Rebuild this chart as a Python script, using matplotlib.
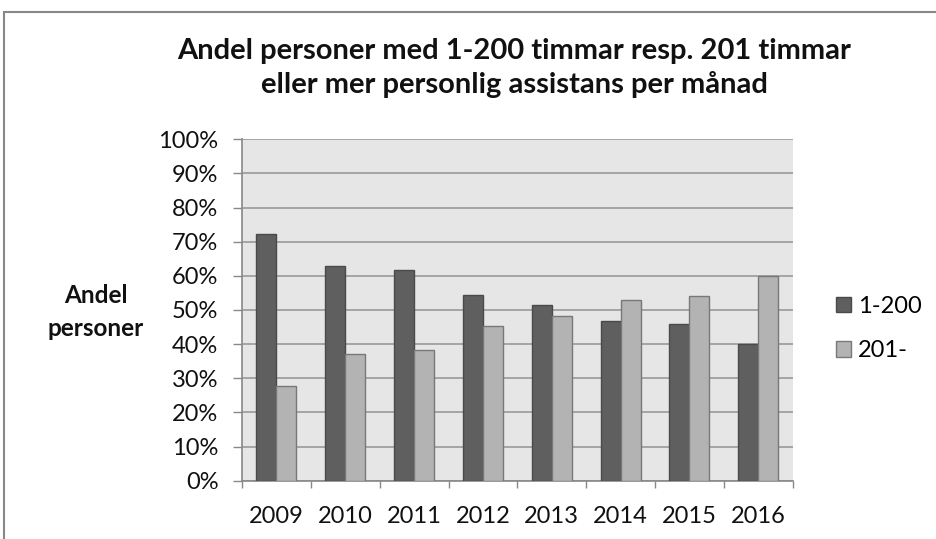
import matplotlib
matplotlib.use("Agg")
import matplotlib.pyplot as plt
from matplotlib.patches import Rectangle
from matplotlib.ticker import FixedLocator
import numpy as np

years = ["2009", "2010", "2011", "2012", "2013", "2014", "2015", "2016"]
share_1_200 = [72.2, 62.8, 61.6, 54.5, 51.6, 46.9, 45.8, 39.9]
share_201 = [27.7, 37.0, 38.2, 45.4, 48.2, 52.9, 54.1, 59.9]
series_names = ["1-200", "201-"]
title = "Andel personer med 1-200 timmar resp. 201 timmar\neller mer personlig assistans per månad"
ylabel = "Andel\npersoner"

plt.rcParams["font.family"] = ["Lato", "DejaVu Sans"]

W, H = 936, 539
fig = plt.figure(figsize=(W / 100, H / 100), dpi=100)
fig.patch.set_facecolor("white")

# outer chart frame
fig.add_artist(Rectangle((4 / W, -0.1), 1.2, (H - 12) / H + 0.1, transform=fig.transFigure,
                         fill=False, edgecolor="#888888", linewidth=1.5))

ax = fig.add_axes([242 / W, 1 - 480.7 / H, (792.7 - 242) / W, (480.7 - 139.3) / H])
ax.set_facecolor("#e6e6e6")

x = np.arange(len(years))
bw = 0.29
ax.bar(x - bw / 2, share_1_200, bw, color="#5f5f5f", edgecolor="#4a4a4a", linewidth=1, label=series_names[0], zorder=3)
ax.bar(x + bw / 2, share_201, bw, color="#b3b3b3", edgecolor="#787878", linewidth=1, label=series_names[1], zorder=3)

ax.set_xlim(-0.5, len(years) - 0.5)
ax.set_ylim(0, 100)
ax.set_yticks(np.arange(0, 101, 10))
ax.set_yticklabels([f"{v}%" for v in range(0, 101, 10)], fontsize=17, color="#111111")
ax.set_xticks(x)
ax.set_xticklabels(years, fontsize=17, color="#111111")
ax.xaxis.set_minor_locator(FixedLocator(np.arange(-0.5, len(years), 1)))
ax.tick_params(axis="x", which="major", length=0, pad=18)
ax.tick_params(axis="x", which="minor", length=5, color="#888888", width=1)
ax.tick_params(axis="y", length=6.5, color="#888888", width=1, pad=10.5)
ax.yaxis.grid(True, color="#a0a0a0", linewidth=1.3, zorder=0)
ax.set_axisbelow(True)
for side in ["top", "right"]:
    ax.spines[side].set_visible(False)
for side in ["left", "bottom"]:
    ax.spines[side].set_color("#888888")
    ax.spines[side].set_linewidth(1.2)

fig.text(514 / W, 1 - 68 / H, title, ha="center", va="center", fontsize=21,
         fontweight="bold", linespacing=1.3, color="#111111")
fig.text(96 / W, 1 - 312 / H, ylabel, ha="center", va="center", fontsize=17.5,
         fontweight="bold", linespacing=1.5, color="#111111")

leg = fig.legend(loc="center left", bbox_to_anchor=(836 / W, 1 - 328.5 / H), frameon=False,
                 fontsize=17, handlelength=0.64, handleheight=0.64, handletextpad=0.28,
                 labelspacing=1.0, borderpad=0, borderaxespad=0)

fig.savefig("out.png", dpi=100, facecolor="white")
